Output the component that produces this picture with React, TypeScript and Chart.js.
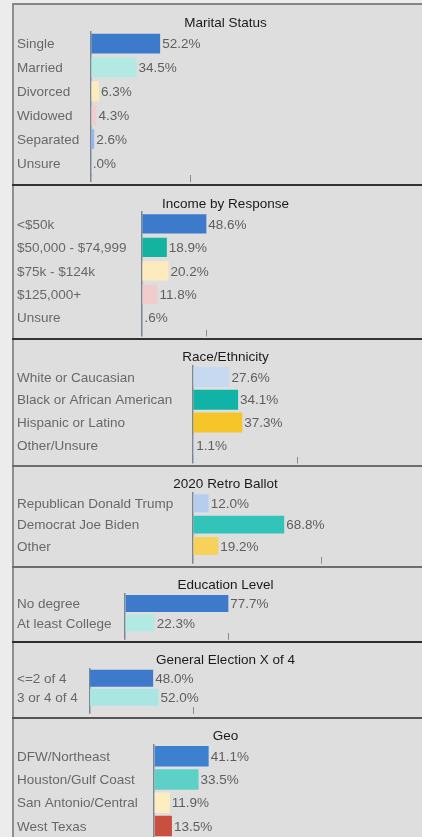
import React, { useEffect, useRef } from 'react';
import { Chart, registerables } from 'chart.js';

Chart.register(...registerables);

const FONT = "'Liberation Sans', Arial, Helvetica, sans-serif";

// ---------- data ----------
const maritalLabels = ['Single', 'Married', 'Divorced', 'Widowed', 'Separated', 'Unsure'];
const maritalValues = [52.2, 34.5, 6.3, 4.3, 2.6, 0.0];
const maritalColors = ['#3d7acb', '#b3e9e3', '#fdebbe', '#f2cdcd', '#8fb8ee', '#cccccc'];
const maritalTick = 75;

const incomeLabels = ['<$50k', '$50,000 - $74,999', '$75k - $124k', '$125,000+', 'Unsure'];
const incomeValues = [48.6, 18.9, 20.2, 11.8, 0.6];
const incomeColors = ['#3d7acb', '#13b3a0', '#fdebbe', '#f0cccc', '#cfcfcf'];
const incomeTick = 49;

const raceLabels = ['White or Caucasian', 'Black or African American', 'Hispanic or Latino', 'Other/Unsure'];
const raceValues = [27.6, 34.1, 37.3, 1.1];
const raceColors = ['#c7d9f1', '#11b3a6', '#f5c52a', '#cccccc'];
const raceTick = 79;

const ballotLabels = ['Republican Donald Trump', 'Democrat Joe Biden', 'Other'];
const ballotValues = [12.0, 68.8, 19.2];
const ballotColors = ['#b6cdee', '#33c4b9', '#f8d15a'];
const ballotTick = 97;

const eduLabels = ['No degree', 'At least College'];
const eduValues = [77.7, 22.3];
const eduColors = ['#3d7acb', '#b3e9e3'];
const eduTick = 78;

const genLabels = ['<=2 of 4', '3 or 4 of 4'];
const genValues = [48.0, 52.0];
const genColors = ['#3d7acb', '#aae6e1'];
const genTick = 78;

const geoLabels = ['DFW/Northeast', 'Houston/Gulf Coast', 'San Antonio/Central', 'West Texas'];
const geoValues = [41.1, 33.5, 11.9, 13.5];
const geoColors = ['#3e80d0', '#5dd1c8', '#fdeec2', '#c9503f'];
const geoTick = 78;

// ---------- layout ----------
const PX_PER_PCT = 1.33;
const FONT_SIZE = 13.5;
const TICK_LEN = 7;
const CANVAS_LEFT = 14;
const CANVAS_WIDTH = 420;
const TEXT_SHIFT = 1;

type PanelCfg = {
  title: string;
  labels: string[];
  values: number[];
  colors: string[];
  tick: number;
  top: number;
  height: number;
  titleY: number;
  areaTop: number;
  areaBottom: number;
  axisWidth: number;
  barPct: number;
};

const PANELS: PanelCfg[] = [
  { title: 'Marital Status', labels: maritalLabels, values: maritalValues, colors: maritalColors, tick: maritalTick,
    top: 5, height: 179, titleY: 18.5, areaTop: 26, areaBottom: 170, axisWidth: 73.7, barPct: 0.83 },
  { title: 'Income by Response', labels: incomeLabels, values: incomeValues, colors: incomeColors, tick: incomeTick,
    top: 186, height: 152, titleY: 18, areaTop: 25.5, areaBottom: 143.5, axisWidth: 124.7, barPct: 0.82 },
  { title: 'Race/Ethnicity', labels: raceLabels, values: raceValues, colors: raceColors, tick: raceTick,
    top: 340, height: 125, titleY: 17.5, areaTop: 25.7, areaBottom: 116.5, axisWidth: 175.7, barPct: 0.88 },
  { title: '2020 Retro Ballot', labels: ballotLabels, values: ballotValues, colors: ballotColors, tick: ballotTick,
    top: 467, height: 99, titleY: 17.5, areaTop: 25.2, areaBottom: 89.7, axisWidth: 175.7, barPct: 0.84 },
  { title: 'Education Level', labels: eduLabels, values: eduValues, colors: eduColors, tick: eduTick,
    top: 568, height: 73, titleY: 17.5, areaTop: 25.75, areaBottom: 64.75, axisWidth: 108, barPct: 0.87 },
  { title: 'General Election X of 4', labels: genLabels, values: genValues, colors: genColors, tick: genTick,
    top: 643, height: 74, titleY: 17.5, areaTop: 25.8, areaBottom: 63.8, axisWidth: 72.3, barPct: 0.89 },
  { title: 'Geo', labels: geoLabels, values: geoValues, colors: geoColors, tick: geoTick,
    top: 719, height: 130, titleY: 17.5, areaTop: 24.6, areaBottom: 118.6, axisWidth: 137, barPct: 0.88 },
];

const SEPARATORS = [
  { y: 184, color: '#333333' },
  { y: 338, color: '#333333' },
  { y: 465, color: '#6e6e6e' },
  { y: 566, color: '#6e6e6e' },
  { y: 641, color: '#2e2e2e' },
  { y: 717, color: '#555555' },
];

const AXIS_COLOR = '#7c8794';
const TICK_COLOR = '#8a8a8a';
const LABEL_COLOR = '#686868';
const VALUE_COLOR = '#5e5e5e';
const TITLE_COLOR = '#1a1a1a';

function fmtPct(v: number): string {
  const s = v.toFixed(1);
  return (s.startsWith('0') ? s.slice(1) : s) + '%';
}

const valueLabelPlugin = {
  id: 'valueLabels',
  afterDatasetsDraw(chart: any) {
    const ctx = chart.ctx;
    const ds = chart.data.datasets[0];
    const meta = chart.getDatasetMeta(0);
    ctx.save();
    ctx.font = `${FONT_SIZE}px ${FONT}`;
    ctx.fillStyle = VALUE_COLOR;
    ctx.textAlign = 'left';
    ctx.textBaseline = 'middle';
    meta.data.forEach((bar: any, i: number) => {
      ctx.fillText(fmtPct(ds.data[i]), bar.x + 2, bar.y + TEXT_SHIFT);
    });
    ctx.restore();
  },
};

function Panel({ cfg }: { cfg: PanelCfg }) {
  const ref = useRef<HTMLCanvasElement>(null);
  useEffect(() => {
    if (!ref.current) return;
    const lh = FONT_SIZE * 1.2;
    const chart = new Chart(ref.current, {
      type: 'bar',
      data: {
        labels: cfg.labels,
        datasets: [
          {
            data: cfg.values,
            backgroundColor: cfg.colors,
            borderWidth: 0,
            barPercentage: cfg.barPct,
            categoryPercentage: 1,
          },
        ],
      },
      options: {
        indexAxis: 'y',
        responsive: false,
        animation: false,
        layout: {
          padding: { left: 3, right: 0, top: 0, bottom: cfg.height - cfg.areaBottom - TICK_LEN },
        },
        plugins: {
          legend: { display: false },
          tooltip: { enabled: false },
          title: {
            display: true,
            text: cfg.title,
            color: TITLE_COLOR,
            font: { family: FONT, size: FONT_SIZE, weight: 'normal', lineHeight: 1.2 },
            padding: {
              top: cfg.titleY - lh / 2,
              bottom: Math.max(0, cfg.areaTop - cfg.titleY - lh / 2),
            },
          },
        },
        scales: {
          y: {
            grid: { display: true, drawOnChartArea: false, drawTicks: false },
            border: { display: true, color: AXIS_COLOR, width: 1.5 },
            ticks: {
              crossAlign: 'far',
              padding: 0,
              labelOffset: TEXT_SHIFT,
              autoSkip: false,
              color: LABEL_COLOR,
              font: { family: FONT, size: FONT_SIZE, lineHeight: 1 },
            },
            afterFit: (scale: any) => {
              scale.width = cfg.axisWidth;
            },
          },
          x: {
            min: 0,
            grid: {
              drawOnChartArea: false,
              drawTicks: true,
              tickLength: TICK_LEN,
              color: (c: any) => (c.tick && c.tick.value === 0 ? AXIS_COLOR : TICK_COLOR),
              lineWidth: (c: any) => (c.tick && c.tick.value === 0 ? 1.5 : 1),
            },
            border: { display: false },
            ticks: { display: false },
            afterBuildTicks: (scale: any) => {
              scale.min = 0;
              scale.max = Math.max(1, scale.width / PX_PER_PCT);
              scale.ticks = [{ value: 0 }, { value: cfg.tick }];
            },
          },
        },
      },
      plugins: [valueLabelPlugin],
    } as any);
    return () => chart.destroy();
  }, [cfg]);
  return (
    <canvas
      ref={ref}
      width={CANVAS_WIDTH}
      height={cfg.height}
      style={{ position: 'absolute', left: CANVAS_LEFT, top: cfg.top, width: CANVAS_WIDTH, height: cfg.height }}
    />
  );
}

export default function App() {
  return (
    <div
      style={{
        position: 'absolute',
        left: 0,
        top: 0,
        width: 422,
        height: 837,
        overflow: 'hidden',
        background: '#ececec',
      }}
    >
      <div
        style={{
          position: 'absolute',
          left: 12,
          top: 3,
          width: 440,
          height: 860,
          background: '#dedede',
          borderLeft: '2px solid #8f8f8f',
          borderTop: '2px solid #858585',
        }}
      />
      {SEPARATORS.map((s) => (
        <div
          key={s.y}
          style={{ position: 'absolute', left: 12, top: s.y, width: 440, height: 2, background: s.color }}
        />
      ))}
      {PANELS.map((p) => (
        <Panel key={p.title} cfg={p} />
      ))}
    </div>
  );
}
